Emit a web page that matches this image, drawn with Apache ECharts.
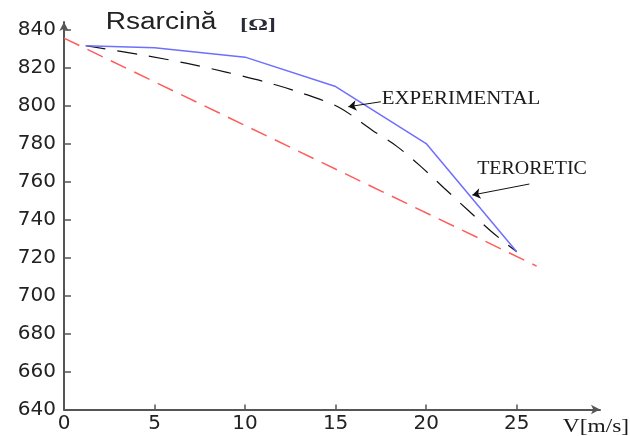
<!DOCTYPE html>
<html>
<head>
<meta charset="utf-8">
<script src="https://cdn.jsdelivr.net/npm/echarts@6/dist/echarts.min.js"></script>
<style>
  html, body { margin: 0; padding: 0; background: #fff; }
  #chart { width: 630px; height: 436px; }
</style>
</head>
<body>
<div id="chart"></div>
<script>
// valori: V [m/s] si Rsarcina [ohm]
var xTicks = [0, 5, 10, 15, 20, 25];
var yTicks = [640, 660, 680, 700, 720, 740, 760, 780, 800, 820, 840];

var vBlue = [1.2, 5, 10, 15, 20, 25];
var rBlue = [831.5, 830.5, 825.5, 810, 780, 723];

var vBlack = [1.2, 4.6, 6.8, 9, 11.1, 13.2, 15.2, 17, 18.4, 19.7, 21, 22.3, 23.6, 25];
var rBlack = [831.5, 826.2, 822.2, 817.5, 812.5, 806.4, 799, 787.2, 778.4, 768, 756.5, 745, 733.7, 723];

var vRed = [0, 26.1];
var rRed = [835.5, 715.5];

// sagetile de adnotare (start -> varf)
var arrowExp = [[17.5, 802], [15.7, 799.4]];
var arrowTeo = [[25.7, 758.7], [22.55, 752.9]];

function pairs(xs, ys) {
  return xs.map(function (x, i) { return [x, ys[i]]; });
}

var axisColor = '#555';
var chart = echarts.init(document.getElementById('chart'));

chart.setOption({
  animation: false,
  grid: { left: 64, right: 30, top: 22, bottom: 26.5, outerBoundsMode: 'none' },
  xAxis: {
    type: 'value',
    min: 0,
    max: 29.6,
    interval: 5,
    splitLine: { show: false },
    axisLine: { lineStyle: { color: axisColor, width: 2 }, symbol: ['none', 'arrow'], symbolSize: [7, 9] },
    axisTick: { inside: true, length: 5, lineStyle: { color: axisColor, width: 1.5 }, customValues: xTicks },
    axisLabel: { customValues: xTicks, margin: 4, color: '#222', fontSize: 20, fontFamily: 'DejaVu Sans' }
  },
  yAxis: {
    type: 'value',
    min: 640,
    max: 844,
    interval: 20,
    splitLine: { show: false },
    axisLine: { lineStyle: { color: axisColor, width: 2 }, symbol: ['none', 'arrow'], symbolSize: [7, 9] },
    axisTick: { inside: true, length: 7, lineStyle: { color: axisColor, width: 1.5 }, customValues: yTicks },
    axisLabel: { customValues: yTicks, margin: 8, color: '#222', fontSize: 20, fontFamily: 'DejaVu Sans' }
  },
  series: [
    {
      type: 'line',
      data: pairs(vRed, rRed),
      showSymbol: false,
      lineStyle: { color: '#ff5c5c', width: 1.5, type: [17, 9] },
      markLine: {
        silent: true,
        symbol: ['none', 'arrow'],
        symbolSize: 8,
        label: { show: false },
        lineStyle: { color: '#111', width: 1, type: 'solid' },
        data: [
          [{ coord: arrowExp[0] }, { coord: arrowExp[1] }],
          [{ coord: arrowTeo[0] }, { coord: arrowTeo[1] }]
        ]
      }
    },
    {
      type: 'line',
      data: pairs(vBlack, rBlack),
      smooth: 0.3,
      showSymbol: false,
      lineStyle: { color: '#111', width: 1.2, type: [20, 12] }
    },
    {
      type: 'line',
      data: pairs(vBlue, rBlue),
      showSymbol: false,
      lineStyle: { color: '#6e6eff', width: 1.5 }
    }
  ],
  graphic: [
    { type: 'text', x: 161, y: 23, scaleX: 1.22, style: { text: 'Rsarcină', font: '23px "Liberation Sans"', fill: '#222', align: 'center', verticalAlign: 'middle' } },
    { type: 'text', x: 258, y: 26, scaleX: 1.45, style: { text: '[Ω]', font: 'bold 17px "Liberation Serif"', fill: '#2a2a3a', align: 'center', verticalAlign: 'middle' } },
    { type: 'text', x: 461, y: 99, scaleX: 1.1, style: { text: 'EXPERIMENTAL', font: '19px "Liberation Serif"', fill: '#1a1a1a', align: 'center', verticalAlign: 'middle' } },
    { type: 'text', x: 532, y: 169, scaleX: 1.05, style: { text: 'TERORETIC', font: '19px "Liberation Serif"', fill: '#1a1a1a', align: 'center', verticalAlign: 'middle' } },
    { type: 'text', x: 596, y: 427, scaleX: 1.3, style: { text: 'V[m/s]', font: '18px "Liberation Serif"', fill: '#1a1a1a', align: 'center', verticalAlign: 'middle' } }
  ]
});
</script>
</body>
</html>
